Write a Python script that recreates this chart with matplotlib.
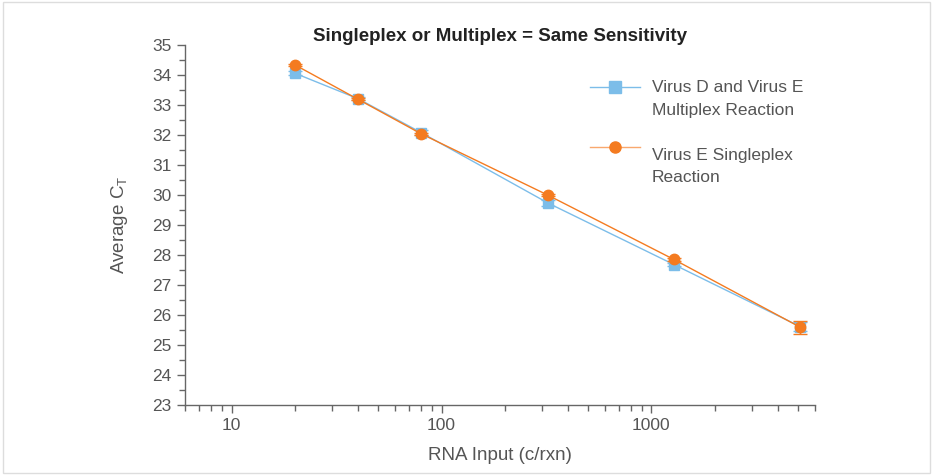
import matplotlib.pyplot as plt
from matplotlib.patches import Rectangle
from matplotlib.ticker import FixedLocator, NullFormatter

# Data
rna_input = [20, 40, 80, 320, 1280, 5120]
multiplex_ct = [34.06, 33.21, 32.08, 29.74, 27.68, 25.61]
multiplex_err = [0.06, 0.05, 0.07, 0.1, 0.06, 0.15]
singleplex_ct = [34.34, 33.19, 32.04, 30.0, 27.85, 25.59]
singleplex_err = [0.04, 0.04, 0.04, 0.04, 0.05, 0.22]
legend_lines = [['Virus D and Virus E', 'Multiplex Reaction'],
                ['Virus E Singleplex', 'Reaction']]

y_ticks = list(range(23, 36))
x_major = [10, 100, 1000]
x_minor = [6, 7, 8, 9, 20, 30, 40, 50, 60, 70, 80, 90,
           200, 300, 400, 500, 600, 700, 800, 900,
           2000, 3000, 4000, 5000, 6000]

blue = '#7cbde9'
orange = '#f47b20'
grey = '#555555'

plt.rcParams['font.family'] = ['Liberation Sans', 'DejaVu Sans']

# Create figure
fig = plt.figure(figsize=(9.33, 4.75), dpi=100)
ax = fig.add_axes([0.1983, 0.1474, 0.675, 0.7579])

# Plot variables
ax.errorbar(rna_input, multiplex_ct, yerr=multiplex_err, color=blue,
            marker='s', markersize=7.5, linewidth=1, capsize=5,
            elinewidth=1, zorder=3)
ax.errorbar(rna_input, singleplex_ct, yerr=singleplex_err, color=orange,
            marker='o', markersize=7.5, linewidth=1, capsize=5,
            elinewidth=1, zorder=4)

# Axes styling
ax.set_xscale('log')
ax.set_xlim(6, 6000)
ax.set_ylim(23, 35)
ax.xaxis.set_major_locator(FixedLocator(x_major))
ax.xaxis.set_minor_locator(FixedLocator(x_minor))
ax.xaxis.set_minor_formatter(NullFormatter())
ax.set_xticklabels([str(v) for v in x_major])
ax.set_yticks(y_ticks)
ax.set_yticks([v + 0.5 for v in y_ticks[:-1]], minor=True)
for side in ['top', 'right']:
    ax.spines[side].set_visible(False)
for side in ['left', 'bottom']:
    ax.spines[side].set_color('#666666')
    ax.spines[side].set_linewidth(1)
ax.tick_params(which='major', direction='out', length=6, width=1,
               color='#666666', labelcolor=grey, labelsize=12.5)
ax.tick_params(which='minor', direction='out', length=4, width=1,
               color='#666666')

# Tuning labels and titles
ax.set_xlabel('RNA Input (c/rxn)', color=grey, fontsize=13.5, labelpad=10)
ax.set_ylabel('Average C$_\\mathregular{T}$', color=grey, fontsize=13.5,
              labelpad=16)
ax.set_title('Singleplex or Multiplex = Same Sensitivity', fontsize=13.5,
             fontweight='bold', color='#222222', pad=2)

# Legend drawn by hand: handle aligned with the first text line
legend_styles = [dict(color=blue, marker='s', markersize=8),
                 dict(color='#f9a86e', marker='o', markersize=8,
                      markerfacecolor=orange, markeredgecolor=orange)]
handle_y = [0.884, 0.717]
text_y = [[0.882, 0.819], [0.694, 0.633]]
for lines, style, hy, ty in zip(legend_lines, legend_styles, handle_y, text_y):
    ax.plot([0.643, 0.722], [hy, hy], linewidth=1, transform=ax.transAxes,
            clip_on=False, markevery=[], **style)
    ax.plot([0.683], [hy], linewidth=0, transform=ax.transAxes,
            clip_on=False, **style)
    for line, y in zip(lines, ty):
        ax.text(0.741, y, line, transform=ax.transAxes, fontsize=12.5,
                color=grey, va='center', ha='left')

# Light frame around the figure
fig.patches.append(Rectangle((0.003, 0.005), 0.994, 0.99,
                             transform=fig.transFigure, fill=False,
                             edgecolor='#dddddd', linewidth=1))

# Save
fig.savefig('out.png', dpi=100)
plt.close(fig)
